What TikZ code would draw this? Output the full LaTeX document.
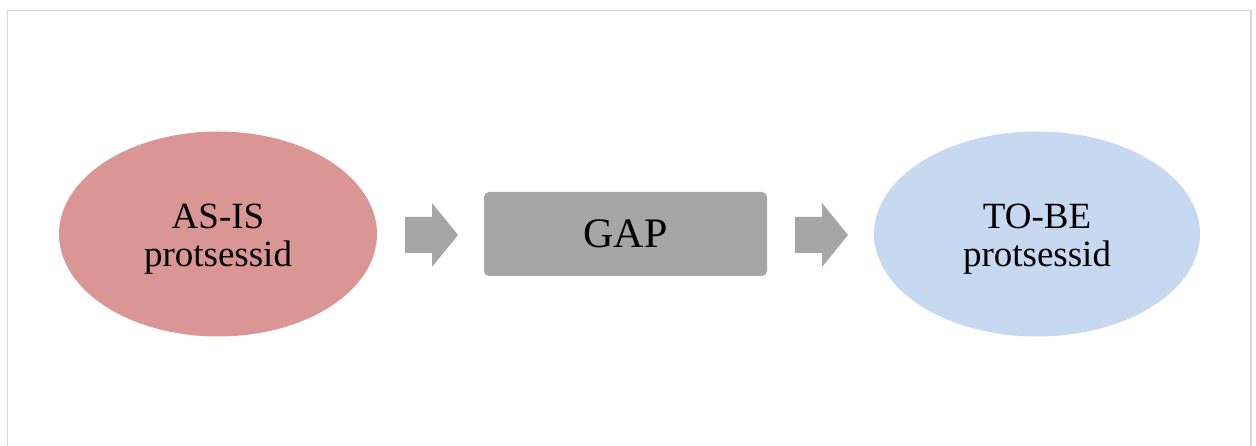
\documentclass[tikz,border=0pt]{standalone}
\usepackage{fontspec}
\setmainfont{Liberation Serif}
\usetikzlibrary{shapes.geometric}
\definecolor{asisfill}{HTML}{D99694}
\definecolor{tobefill}{HTML}{C6D9F1}
\definecolor{gapfill}{HTML}{A6A6A6}
\definecolor{framegray}{HTML}{D9D9D9}
\tikzset{
  state/.style={ellipse, draw=none, inner sep=0pt,
    minimum width=318pt, minimum height=205pt},
  statetext/.style={align=center, inner sep=0pt,
    font=\fontsize{37pt}{38pt}\selectfont},
  gapbox/.style={rectangle, rounded corners=5pt, fill=gapfill, draw=none,
    minimum width=283pt, minimum height=84pt,
    font=\fontsize{42pt}{44pt}\selectfont},
  flow/.style={fill=gapfill, draw=none}
}
% block arrow, 54 wide and 64 high, starting at the given coordinate
\newcommand\blockarrow[1]{%
  \fill[flow] (#1) ++(0,-18) -- ++(27,0) -- ++(0,-14) -- ++(26,32)
    -- ++(-26,32) -- ++(0,-14) -- ++(-27,0) -- cycle;}
\begin{document}
\begin{tikzpicture}[x=1pt,y=-1pt]
  \useasboundingbox (0,0) rectangle (1256,446);
  % open frame: left, top and right edges
  \draw[framegray, line width=1.2pt] (7.5,446) -- (7.5,10.5) -- (1251,10.5) -- (1251,446);
  \node[state, fill=asisfill] (asis) at (218,234) {};
  \node[statetext] (asistext) at ([yshift=-5pt]asis.center) {AS-IS\\protsessid};
  \node[gapbox] (gap) at (625.5,234) {GAP};
  \node[state, fill=tobefill, minimum width=326pt] (tobe) at (1037,234) {};
  \node[statetext] (tobetext) at ([yshift=-5pt]tobe.center) {TO-BE\\protsessid};
  \coordinate (a1) at (405,235);
  \coordinate (a2) at (795,235);
  \blockarrow{a1}
  \blockarrow{a2}
\end{tikzpicture}
\end{document}
